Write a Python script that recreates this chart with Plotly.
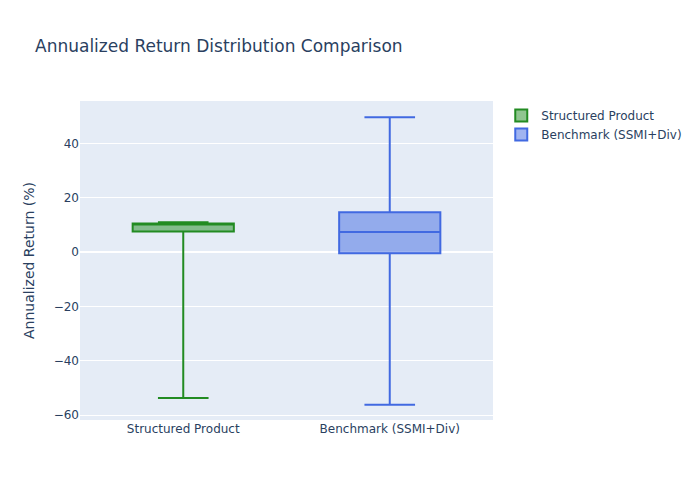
import plotly.graph_objects as go

# -------------------------------
# Dados
# -------------------------------
names = ["Structured Product", "Benchmark (SSMI+Div)"]
lower_fence = [-53.7, -56.2]
q1 = [7.6, -0.4]
median = [10.4, 7.4]
q3 = [10.5, 14.7]
upper_fence = [11.0, 49.6]
colors = ["forestgreen", "royalblue"]

fig = go.Figure()

for i, name in enumerate(names):
    fig.add_trace(go.Box(
        x=[name],
        name=name,
        lowerfence=[lower_fence[i]],
        q1=[q1[i]],
        median=[median[i]],
        q3=[q3[i]],
        upperfence=[upper_fence[i]],
        marker_color=colors[i],
        line=dict(color=colors[i]),
    ))

# a página tem 8px de margem no body, compensado nas margens
fig.update_layout(
    title=dict(text='Annualized Return Distribution Comparison', x=0.0386, y=0.924,
               xanchor='left', yanchor='middle'),
    yaxis_title='Annualized Return (%)',
    yaxis=dict(range=[-61.8, 55.6]),
    font=dict(family='DejaVu Sans'),
    margin=dict(l=72, r=215, t=93, b=88),
    width=700,
    height=500,
)

fig.write_html("out.html")
